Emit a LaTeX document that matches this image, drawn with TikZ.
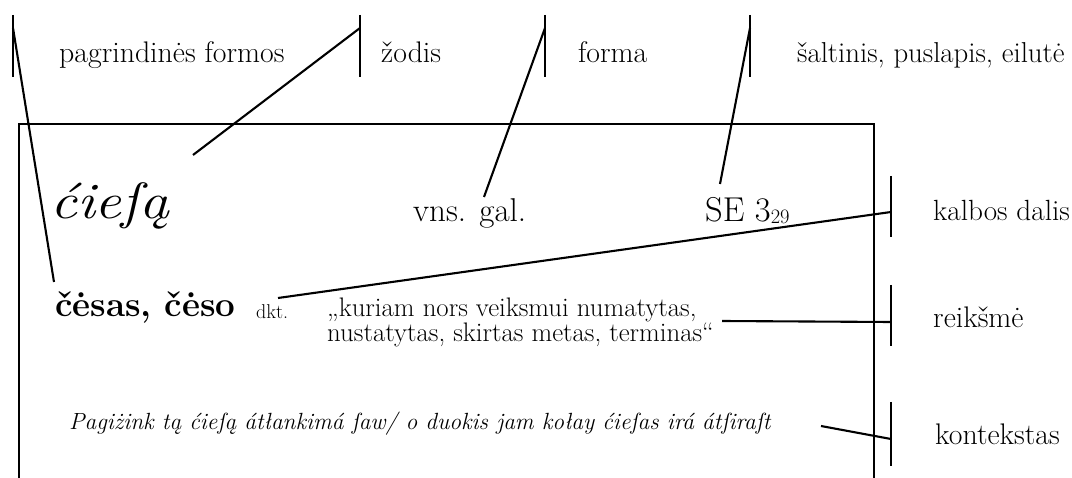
\documentclass[tikz,border=0pt]{standalone}
\usepackage{fontspec}
\usepackage{graphicx}
\tikzset{
  lbl/.style={anchor=base west, inner sep=0pt, font=\fontsize{29.8}{29.8}\selectfont},
  txt/.style={anchor=base west, inner sep=0pt},
  conn/.style={line width=2.1pt},
  tickmark/.style={line width=2.1pt},
  frame/.style={line width=2.1pt},
}
\begin{document}
\begin{tikzpicture}[x=1pt,y=-1pt]
\useasboundingbox (0,0) rectangle (1072,478);
% open frame
\draw[frame] (19,478) -- (19,124) -- (874,124) -- (874,478);

% top labels
\node[lbl] (pf) at (59,63) {pagrindinės formos};
\node[lbl] (zo) at (381,63) {žodis};
\node[lbl] (fo) at (578,63) {forma};
\node[lbl, font=\fontsize{28.8}{28.8}\selectfont] (sa) at (797,63) {šaltinis, puslapis, eilutė};
% right labels
\node[lbl, font=\fontsize{29.2}{29.2}\selectfont] (kd) at (933,221) {kalbos dalis};
\node[lbl] (re) at (933,328) {reikšmė};
\node[lbl] (ko) at (935,445) {kontekstas};

% entry texts
\node[txt, font=\fontsize{51}{51}\selectfont\itshape] (hw) at (50,219) {\scalebox{1.17}[1]{ćieſą}};
\node[txt, font=\fontsize{33}{33}\selectfont] (vg) at (413,222) {vns. gal.};
\node[txt, font=\fontsize{34.5}{34.5}\selectfont] (se) at (705,222) {SE 3\raisebox{-2pt}{\fontsize{20.5}{20.5}\selectfont 29}};
\node[txt, font=\fontsize{35}{35}\selectfont\bfseries] (ce) at (55,317) {čėsas, čėso};
\node[txt, font=\fontsize{20}{20}\selectfont] (dk) at (256,319) {dkt.};
\node[txt, font=\fontsize{26.8}{26.8}\selectfont] (q1) at (327,317) {„kuriam nors veiksmui numatytas,};
\node[txt, font=\fontsize{26.8}{26.8}\selectfont] (q2) at (327,342) {nustatytas, skirtas metas, terminas“};
\node[txt, font=\fontsize{23.4}{23.4}\selectfont\itshape] (cx) at (69,430) {Pagiżink tą ćieſą átłankimá ſaw/ o duokis jam kołay ćieſas irá átſiraſt};

% tick marks
\coordinate (k1t) at (13,15);  \coordinate (k1b) at (13,77);
\coordinate (k2t) at (360,15); \coordinate (k2b) at (360,77);
\coordinate (k3t) at (545,15); \coordinate (k3b) at (545,77);
\coordinate (k4t) at (750,15); \coordinate (k4b) at (750,77);
\coordinate (k5t) at (891,176); \coordinate (k5b) at (891,237);
\coordinate (k6t) at (891,285); \coordinate (k6b) at (891,346);
\coordinate (k7t) at (891,402); \coordinate (k7b) at (891,466);
\foreach \i in {1,...,7} {\draw[tickmark] (k\i t) -- (k\i b);}

% connector start points on the ticks
\coordinate (s1) at (13,28);
\coordinate (s2) at (360,28);
\coordinate (s3) at (545,28);
\coordinate (s4) at (750,28);
\coordinate (s5) at (891,212);
\coordinate (s6) at (891,322);
\coordinate (s7) at (891,439);
% connector ends near the texts
\coordinate (e1) at (54,282);
\coordinate (e2) at (193,155);
\coordinate (e3) at (484,197);
\coordinate (e4) at (720,184);
\coordinate (e5) at (278,298);
\coordinate (e6) at (722,321);
\coordinate (e7) at (821,426);
\foreach \i in {1,...,7} {\draw[conn] (s\i) -- (e\i);}
\end{tikzpicture}
\end{document}
